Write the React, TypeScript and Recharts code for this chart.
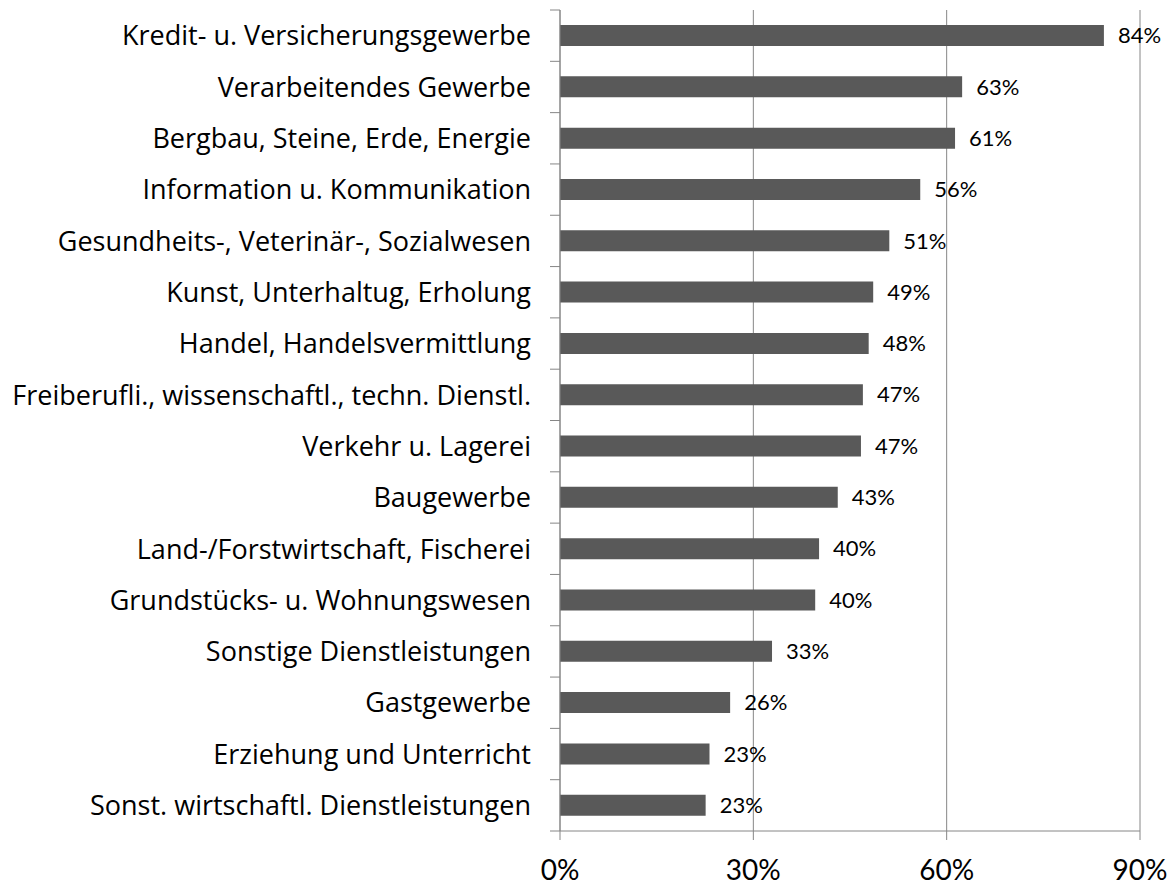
import React from 'react';
import { BarChart, Bar, XAxis, YAxis, CartesianGrid, LabelList } from 'recharts';

const categories = [
  'Kredit- u. Versicherungsgewerbe',
  'Verarbeitendes Gewerbe',
  'Bergbau, Steine, Erde, Energie',
  'Information u. Kommunikation',
  'Gesundheits-, Veterinär-, Sozialwesen',
  'Kunst, Unterhaltug, Erholung',
  'Handel, Handelsvermittlung',
  'Freiberufli., wissenschaftl., techn. Dienstl.',
  'Verkehr u. Lagerei',
  'Baugewerbe',
  'Land-/Forstwirtschaft, Fischerei',
  'Grundstücks- u. Wohnungswesen',
  'Sonstige Dienstleistungen',
  'Gastgewerbe',
  'Erziehung und Unterricht',
  'Sonst. wirtschaftl. Dienstleistungen',
];
const values = [84.4, 62.4, 61.3, 55.9, 51.1, 48.6, 47.9, 47.0, 46.7, 43.1, 40.2, 39.6, 32.9, 26.4, 23.2, 22.6];
const labels = ['84%', '63%', '61%', '56%', '51%', '49%', '48%', '47%', '47%', '43%', '40%', '40%', '33%', '26%', '23%', '23%'];
const xTicks = [0, 30, 60, 90];

const data = categories.map((name, i) => ({ name, value: values[i], label: labels[i] }));

const FONT = 'Lato, "Open Sans", sans-serif';
const CAT_FONT = '"Open Sans", Lato, sans-serif';
const AXIS_COLOR = '#868686';
const Y_TICK_MARGIN = 29;
const Y_TICK_LEN = 10;

const YTick = (props: any) => {
  const { x, y, payload, index, visibleTicksCount } = props;
  const half = payload && payload.offset ? payload.offset : 25.65;
  const axisX = x + Y_TICK_MARGIN;
  const last = index === (visibleTicksCount ? visibleTicksCount - 1 : categories.length - 1);
  return (
    <g>
      <line x1={axisX - Y_TICK_LEN} x2={axisX} y1={y - half} y2={y - half} stroke={AXIS_COLOR} strokeWidth={1} />
      {last ? (
        <line x1={axisX - Y_TICK_LEN} x2={axisX} y1={y + half} y2={y + half} stroke={AXIS_COLOR} strokeWidth={1} />
      ) : null}
      <text x={x} y={y} dy="0.36em" textAnchor="end" fill="#000" fontSize={27} fontFamily={CAT_FONT}>
        {payload.value}
      </text>
    </g>
  );
};

export default function App() {
  return (
    <div style={{ position: 'absolute', left: 0, top: 0, width: 1169, height: 885, background: '#fff' }}>
      <BarChart
        width={1169}
        height={885}
        data={data}
        layout="vertical"
        margin={{ top: 10, right: 29, bottom: 0, left: 0 }}
        barCategoryGap={0}
      >
        <CartesianGrid horizontal={false} vertical={true} stroke={AXIS_COLOR} strokeWidth={1} />
        <XAxis
          type="number"
          domain={[0, 90]}
          ticks={xTicks}
          tickFormatter={(v: number) => `${v}%`}
          height={54}
          axisLine={{ stroke: AXIS_COLOR }}
          tickLine={{ stroke: AXIS_COLOR }}
          tickSize={9}
          tickMargin={20}
          tick={{ fill: '#000', fontSize: 28, fontFamily: FONT }}
          interval={0}
        />
        <YAxis
          type="category"
          dataKey="name"
          width={560}
          axisLine={{ stroke: AXIS_COLOR }}
          tickLine={false}
          tickSize={0}
          tickMargin={Y_TICK_MARGIN}
          tick={<YTick />}
          interval={0}
        />
        <Bar dataKey="value" fill="#595959" barSize={21} isAnimationActive={false}>
          <LabelList
            dataKey="label"
            position="right"
            offset={14}
            fill="#000"
            fontSize={22}
            fontFamily={FONT}
          />
        </Bar>
      </BarChart>
    </div>
  );
}
